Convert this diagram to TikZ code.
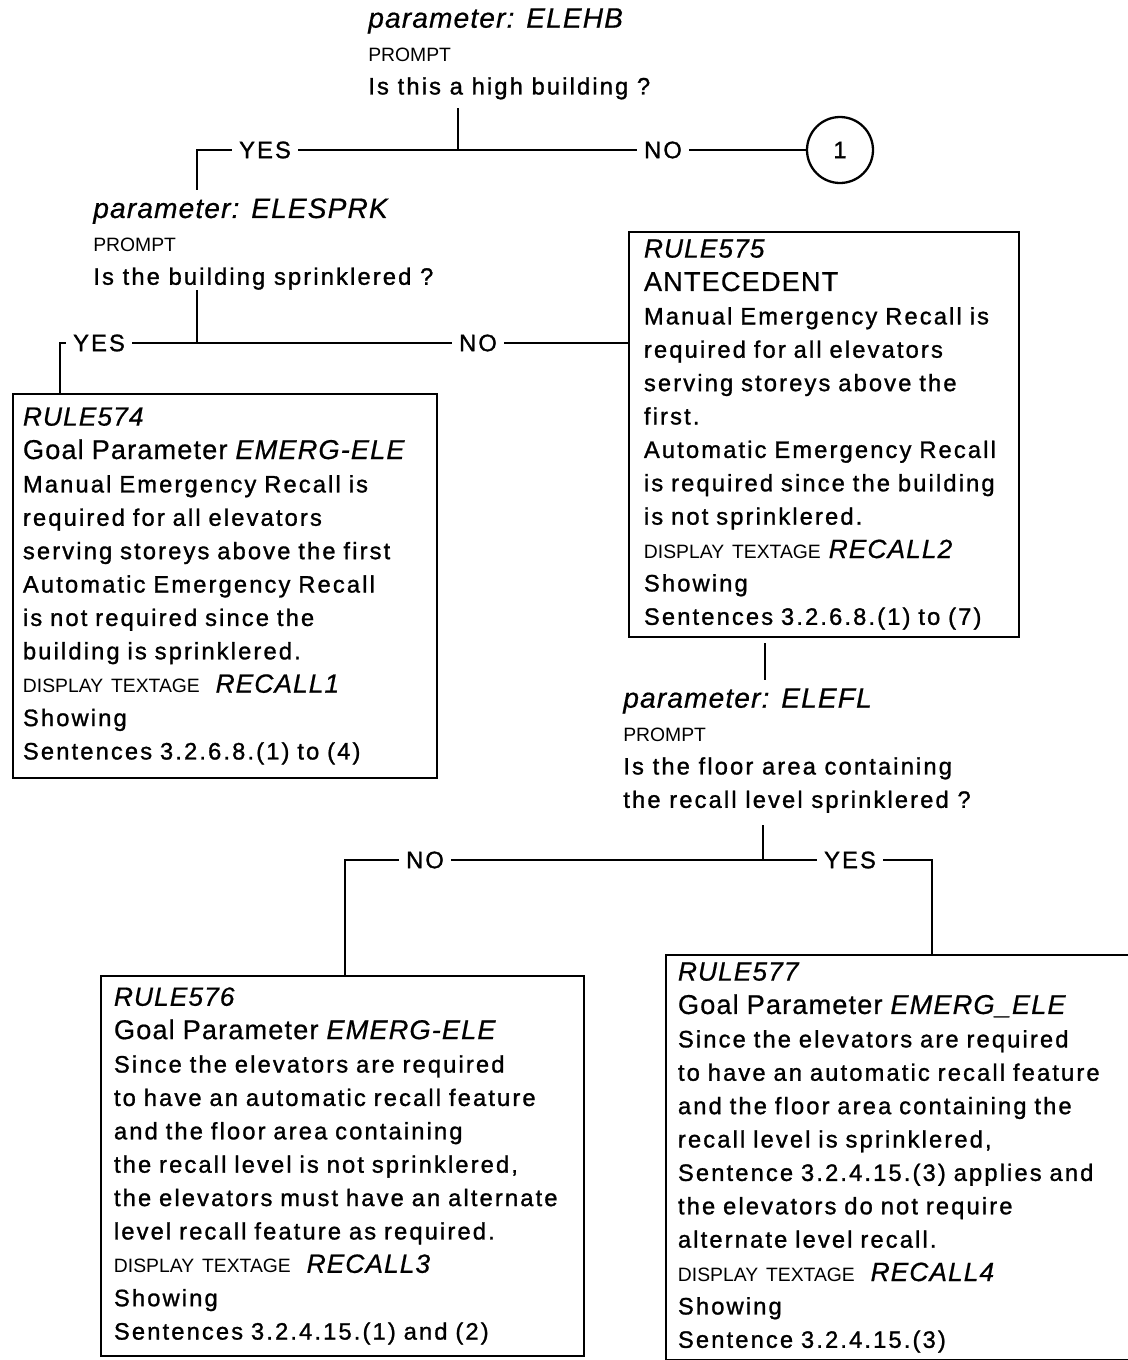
\documentclass[tikz,border=0pt]{standalone}
\usepackage{fontspec}
\setmainfont{Liberation Sans}
\newfontfamily\spacedfont[LetterSpace=9, FakeBold=1.2]{Liberation Sans}
\newfontfamily\headfont[LetterSpace=4, FakeBold=0.6]{Liberation Sans}
\usetikzlibrary{calc}

\newcommand\rulename[1]{{\fontsize{15}{19}\headfont\itshape #1}}
\newcommand\paramname[1]{{\fontsize{16}{19}\headfont\itshape parameter: #1}}
\newcommand\goalline[1]{{\fontsize{15.5}{19}\headfont Goal Parameter \itshape #1}}
\newcommand\plaintext[1]{{\normalfont\fontsize{11}{19}\selectfont #1}}

\tikzset{
  rulebox/.style={draw, line width=1.1pt, anchor=north west, align=left, inner xsep=0.2cm, inner ysep=0.15cm},
  paramblock/.style={anchor=north west, align=left, inner sep=0pt},
  answer/.style={inner xsep=4pt, inner ysep=0pt},
  link/.style={line width=1.6pt},
}

\begin{document}
\begin{tikzpicture}[x=0.02cm, y=-0.02cm, font=\fontsize{13.5}{19}\spacedfont]
  \useasboundingbox (0,0) rectangle (1128,1360);

  % Is this a high building
  \node[paramblock] (elehb) at (368,8) {\paramname{ELEHB}\\ \plaintext{PROMPT}\\ Is this a high building ?};
  \node[answer] (yesA) at (265,150) {YES};
  \node[answer] (noA) at (663,150) {NO};
  \node[draw, circle, line width=1.3pt, minimum size=1.32cm, inner sep=0pt] (c1) at (840,150) {1};
  \coordinate (tA) at (458,108);
  \coordinate (jA) at (458,150);
  \coordinate (cA) at (197,150);
  \coordinate (bA) at (197,190);
  \draw[link] (tA) -- (jA);
  \draw[link] (yesA.east) -- (noA.west);
  \draw[link] (noA.east) -- (c1.west);
  \draw[link] (yesA.west) -- (cA) -- (bA);

  % Is the building sprinklered
  \node[paramblock] (elesprk) at (93,198) {\paramname{ELESPRK}\\ \plaintext{PROMPT}\\ Is the building sprinklered ?};
  \node[answer] (yesB) at (99,343) {YES};
  \node[answer] (noB) at (478,343) {NO};

  \node[rulebox, text width=8.08cm, minimum height=7.68cm] (rule574) at (12,393) {%
    \rulename{RULE574}\\
    \goalline{EMERG-ELE}\\
    Manual Emergency Recall is\\
    required for all elevators\\
    serving storeys above the first\\
    Automatic Emergency Recall\\
    is not required since the\\
    building is sprinklered.\\
    \plaintext{DISPLAY TEXTAGE\ \ \rulename{RECALL1}}\\
    Showing\\
    Sentences 3.2.6.8.(1) to (4)};

  \node[rulebox, inner xsep=0.3cm, text width=7.2cm, minimum height=8.1cm] (rule575) at (628,231) {%
    \rulename{RULE575}\\
    {\fontsize{15.5}{19}\headfont ANTECEDENT}\\
    Manual Emergency Recall is\\
    required for all elevators\\
    serving storeys above the\\
    first.\\
    Automatic Emergency Recall\\
    is required since the building\\
    is not sprinklered.\\
    \plaintext{DISPLAY TEXTAGE \rulename{RECALL2}}\\
    Showing\\
    Sentences 3.2.6.8.(1) to (7)};

  \coordinate (tB) at (197,290);
  \coordinate (jB) at (197,343);
  \coordinate (cB) at (60,343);
  \draw[link] (tB) -- (jB);
  \draw[link] (yesB.east) -- (noB.west);
  \draw[link] (noB.east) -- (rule575.west |- jB);
  \draw[link] (yesB.west) -- (cB) -- (cB |- rule574.north);

  % Is the floor area sprinklered
  \coordinate (tC) at (765,680);
  \draw[link] ($(tC |- rule575.south)+(0,5)$) -- (tC);
  \node[paramblock] (elefl) at (623,688) {\paramname{ELEFL}\\ \plaintext{PROMPT}\\ Is the floor area containing\\ the recall level sprinklered ?};
  \node[answer] (noC) at (425,860) {NO};
  \node[answer] (yesC) at (850,860) {YES};

  \node[rulebox, inner xsep=0.26cm, text width=9.14cm, minimum height=7.6cm] (rule576) at (100,975) {%
    \rulename{RULE576}\\
    \goalline{EMERG-ELE}\\
    Since the elevators are required\\
    to have an automatic recall feature\\
    and the floor area containing\\
    the recall level is not sprinklered,\\
    the elevators must have an alternate\\
    level recall feature as required.\\
    \plaintext{DISPLAY TEXTAGE\ \ \rulename{RECALL3}}\\
    Showing\\
    Sentences 3.2.4.15.(1) and (2)};

  \node[rulebox, inner xsep=0.24cm, text width=9.6cm, minimum height=8.08cm] (rule577) at (665,954) {%
    \rulename{RULE577}\\
    \goalline{EMERG\_ELE}\\
    Since the elevators are required\\
    to have an automatic recall feature\\
    and the floor area containing the\\
    recall level is sprinklered,\\
    Sentence 3.2.4.15.(3) applies and\\
    the elevators do not require\\
    alternate level recall.\\
    \plaintext{DISPLAY TEXTAGE\ \ \rulename{RECALL4}}\\
    Showing\\
    Sentence 3.2.4.15.(3)};

  \coordinate (tD) at (763,825);
  \coordinate (jD) at (763,860);
  \coordinate (cD) at (345,860);
  \coordinate (cE) at (932,860);
  \draw[link] (tD) -- (jD);
  \draw[link] (noC.east) -- (jD) -- (yesC.west);
  \draw[link] (noC.west) -- (cD) -- (cD |- rule576.north);
  \draw[link] (yesC.east) -- (cE) -- (cE |- rule577.north);
\end{tikzpicture}
\end{document}
